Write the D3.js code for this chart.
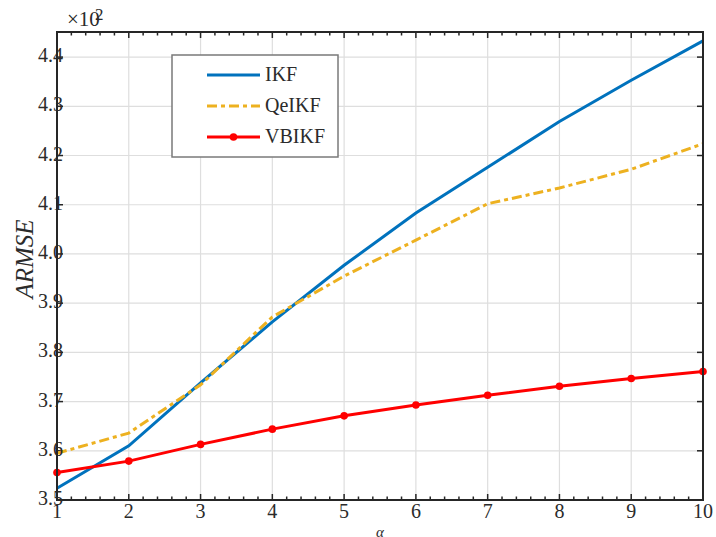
<html>
<head>
  <meta charset="utf-8">
  <title>ARMSE</title>
  <script src="https://d3js.org/d3.v7.min.js"></script>
  <style>
    body { margin: 0; background: #fff; }
    text { font-family: "Liberation Serif", "Times New Roman", serif; fill: #2b2b2b; }
  </style>
</head>
<body>
<script>
// data (values x 10^2)
var alphas = [1, 2, 3, 4, 5, 6, 7, 8, 9, 10];
var ikf    = [3.524, 3.610, 3.738, 3.862, 3.977, 4.083, 4.176, 4.269, 4.353, 4.433];
var qeikf  = [3.595, 3.636, 3.734, 3.872, 3.955, 4.028, 4.102, 4.134, 4.172, 4.224];
var vbikf  = [3.556, 3.579, 3.613, 3.644, 3.671, 3.693, 3.713, 3.731, 3.747, 3.761];
var xTicks = [1, 2, 3, 4, 5, 6, 7, 8, 9, 10];
var yTicks = [3.5, 3.6, 3.7, 3.8, 3.9, 4.0, 4.1, 4.2, 4.3, 4.4];
var seriesNames = ["IKF", "QeIKF", "VBIKF"];

var W = 716, H = 537;
var plotL = 57, plotR = 703, plotT = 32, plotB = 500;

var svg = d3.select("body").append("svg")
  .attr("width", W).attr("height", H);

var x = d3.scaleLinear().domain([1, 10]).range([plotL, plotR]);
var y = d3.scaleLinear().domain([3.5, 4.451]).range([plotB, plotT]);

//grid
svg.append("g").selectAll("line").data(xTicks.slice(1, -1)).enter().append("line")
  .attr("x1", function(d){ return x(d); }).attr("x2", function(d){ return x(d); })
  .attr("y1", plotT).attr("y2", plotB)
  .attr("stroke", "#dedede").attr("stroke-width", 1.2);
svg.append("g").selectAll("line").data(yTicks.slice(1)).enter().append("line")
  .attr("x1", plotL).attr("x2", plotR)
  .attr("y1", function(d){ return y(d); }).attr("y2", function(d){ return y(d); })
  .attr("stroke", "#dedede").attr("stroke-width", 1.2);

// minor x ticks
var minor = d3.range(1, 10.001, 0.2).filter(function(d){ return Math.abs(d - Math.round(d)) > 0.01; });

var axisCol = "#262626";
function ticks(g, data, len, fn) {
  g.selectAll(null).data(data).enter().append("line")
    .attr("stroke", axisCol).attr("stroke-width", 1.5)
    .each(function(d){ fn(d3.select(this), d, len); });
}
var tg = svg.append("g");
ticks(tg, xTicks, 6, function(s, d, l){ s.attr("x1", x(d)).attr("x2", x(d)).attr("y1", plotB).attr("y2", plotB - l); });
ticks(tg, xTicks, 6, function(s, d, l){ s.attr("x1", x(d)).attr("x2", x(d)).attr("y1", plotT).attr("y2", plotT + l); });
ticks(tg, minor, 3.5, function(s, d, l){ s.attr("x1", x(d)).attr("x2", x(d)).attr("y1", plotB).attr("y2", plotB - l); });
ticks(tg, minor, 3.5, function(s, d, l){ s.attr("x1", x(d)).attr("x2", x(d)).attr("y1", plotT).attr("y2", plotT + l); });
ticks(tg, yTicks, 6, function(s, d, l){ s.attr("y1", y(d)).attr("y2", y(d)).attr("x1", plotL).attr("x2", plotL + l); });
ticks(tg, yTicks, 6, function(s, d, l){ s.attr("y1", y(d)).attr("y2", y(d)).attr("x1", plotR).attr("x2", plotR - l); });

// lines
var line = d3.line()
  .x(function(d){ return x(d[0]); })
  .y(function(d){ return y(d[1]); });

var colors = ["#0072BD", "#EDB120", "#FF0000"];
var dashes = [null, "10,4,4,4", null];
var allData = [ikf, qeikf, vbikf];

allData.forEach(function(vals, i){
  var pts = alphas.map(function(a, j){ return [a, vals[j]]; });
  svg.append("path")
    .datum(pts)
    .attr("d", line)
    .attr("fill", "none")
    .attr("stroke", colors[i])
    .attr("stroke-width", 3)
    .attr("stroke-dasharray", dashes[i]);
});

// VBIKF markers
svg.append("g").selectAll("circle")
  .data(alphas.map(function(a, j){ return [a, vbikf[j]]; }))
  .enter().append("circle")
  .attr("cx", function(d){ return x(d[0]); })
  .attr("cy", function(d){ return y(d[1]); })
  .attr("r", 3.8)
  .attr("fill", colors[2]);

// box
svg.append("rect")
  .attr("x", plotL).attr("y", plotT)
  .attr("width", plotR - plotL).attr("height", plotB - plotT)
  .attr("fill", "none").attr("stroke", axisCol).attr("stroke-width", 2);

// tick labels
svg.append("g").selectAll("text").data(xTicks).enter().append("text")
  .attr("x", function(d){ return x(d); }).attr("y", 518)
  .attr("text-anchor", "middle").style("font-size", "20px")
  .text(function(d){ return d; });
svg.append("g").selectAll("text").data(yTicks).enter().append("text")
  .attr("x", 63).attr("y", function(d){ return y(d) + 5; })
  .attr("text-anchor", "end").style("font-size", "20px")
  .text(function(d){ return d.toFixed(1); });

// exponent
svg.append("text").attr("x", 67).attr("y", 26).style("font-size", "21px").text("\u00d710");
svg.append("text").attr("x", 95).attr("y", 20).style("font-size", "17px").text("2");

// axis labels
svg.append("text")
  .attr("transform", "translate(33," + 259 + ") rotate(-90)")
  .attr("text-anchor", "middle").style("font-size", "25px").style("font-style", "italic")
  .text("ARMSE");
svg.append("text").attr("x", 380).attr("y", 537)
  .attr("text-anchor", "middle").style("font-size", "15px").style("font-style", "italic")
  .text("\u03b1");

// legend
var lg = svg.append("g");
lg.append("rect").attr("x", 172).attr("y", 55).attr("width", 166).attr("height", 102)
  .attr("fill", "#fff").attr("stroke", "#7a7a7a").attr("stroke-width", 1.5);
seriesNames.forEach(function(name, i){
  var ly = 75 + i * 31;
  lg.append("line").attr("x1", 207).attr("x2", 260).attr("y1", ly).attr("y2", ly)
    .attr("stroke", colors[i]).attr("stroke-width", 3)
    .attr("stroke-dasharray", dashes[i]);
  if (i == 2) {
    lg.append("circle").attr("cx", 233.5).attr("cy", ly).attr("r", 3.8).attr("fill", colors[i]);
  }
  lg.append("text").attr("x", 265).attr("y", ly + 6).style("font-size", "20px").text(name);
});
</script>
</body>
</html>
